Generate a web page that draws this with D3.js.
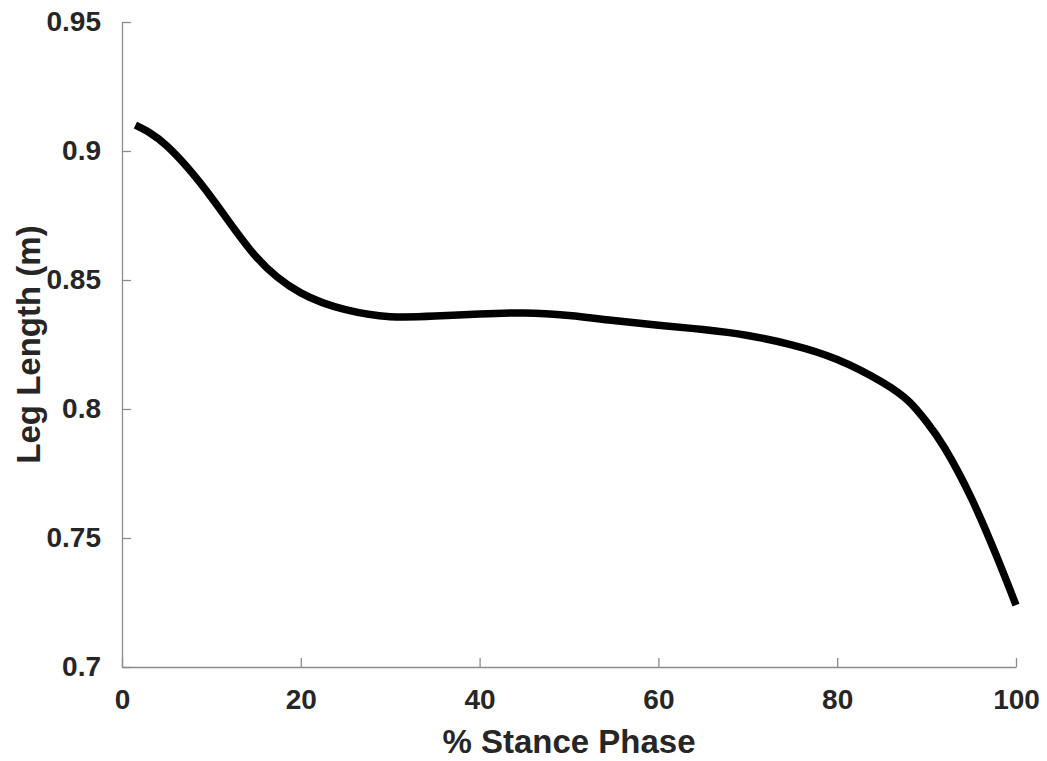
<!DOCTYPE html>
<html>
<head>
<meta charset="utf-8">
<script src="https://cdn.jsdelivr.net/npm/d3@7"></script>
<style>
  body { margin: 0; background: #fff; }
  text { font-family: "Liberation Sans", Arial, sans-serif; font-weight: bold; fill: #262626; }
</style>
</head>
<body>
<div id="chart"></div>
<script>
// stance phase (%) and leg length (m)
var stance = [1.5, 5, 10, 15, 20, 25, 30, 35, 40, 45, 50, 55, 60, 65, 70, 75, 80, 85, 88, 90, 92, 95, 98, 100];
var legLength = [0.910, 0.902, 0.882, 0.859, 0.845, 0.8385, 0.8358, 0.836, 0.8368, 0.8372, 0.8362, 0.8343, 0.8325, 0.8308, 0.8285, 0.8248, 0.8192, 0.8105, 0.803, 0.795, 0.785, 0.7655, 0.7415, 0.724];
var xTicks = [0, 20, 40, 60, 80, 100];
var yTicks = [0.7, 0.75, 0.8, 0.85, 0.9, 0.95];

var width = 1047, height = 761;
var margin = {top: 22, right: 31, bottom: 94, left: 122};

//Make an SVG Container
var svg = d3.select("#chart").append("svg")
    .attr("width", width)
    .attr("height", height);

var x = d3.scaleLinear().domain([0, 100]).range([margin.left, width - margin.right]);
var y = d3.scaleLinear().domain([0.7, 0.95]).range([height - margin.bottom, margin.top]);

// x axis
var xAxis = svg.append("g")
    .attr("transform", "translate(0," + (height - margin.bottom) + ")")
    .call(d3.axisBottom(x).tickValues(xTicks).tickSizeInner(-9).tickSizeOuter(0).tickPadding(22)
        .tickFormat(d3.format("d")));
xAxis.select(".domain").attr("stroke", "#8c8c8c").attr("stroke-width", 1.3);
xAxis.selectAll(".tick line").attr("stroke", "#8c8c8c").attr("stroke-width", 1.3);
xAxis.selectAll(".tick text").attr("font-size", 28).attr("fill", "#262626")
    .attr("font-family", "Liberation Sans, Arial, sans-serif").attr("font-weight", "bold");

// y axis
var yAxis = svg.append("g")
    .attr("transform", "translate(" + margin.left + ",0)")
    .call(d3.axisLeft(y).tickValues(yTicks).tickSizeInner(-9).tickSizeOuter(0).tickPadding(21)
        .tickFormat(function(d) { return String(+d.toFixed(2)); }));
yAxis.select(".domain").attr("stroke", "#8c8c8c").attr("stroke-width", 1.3);
yAxis.selectAll(".tick line").attr("stroke", "#8c8c8c").attr("stroke-width", 1.3);
yAxis.selectAll(".tick text").attr("font-size", 28).attr("fill", "#262626")
    .attr("font-family", "Liberation Sans, Arial, sans-serif").attr("font-weight", "bold");

// the curve
var line = d3.line()
    .x(function(d, i) { return x(stance[i]); })
    .y(function(d) { return y(d); })
    .curve(d3.curveNatural);

svg.append("path")
    .datum(legLength)
    .attr("fill", "none")
    .attr("stroke", "#000")
    .attr("stroke-width", 7.5)
    .attr("d", line);

// axis titles
svg.append("text")
    .attr("x", (margin.left + width - margin.right) / 2)
    .attr("y", 753)
    .attr("text-anchor", "middle")
    .attr("font-size", 33)
    .text("% Stance Phase");

svg.append("text")
    .attr("transform", "translate(40," + ((margin.top + height - margin.bottom) / 2) + ") rotate(-90)")
    .attr("text-anchor", "middle")
    .attr("font-size", 33)
    .text("Leg Length (m)");
</script>
</body>
</html>
